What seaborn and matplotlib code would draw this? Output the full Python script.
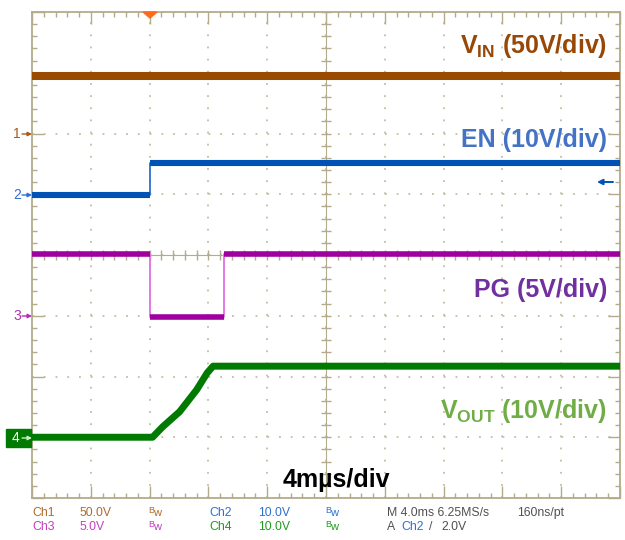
import numpy as np
import pandas as pd
import matplotlib
matplotlib.use("Agg")
import matplotlib.pyplot as plt
from matplotlib.patches import Rectangle, Polygon
import seaborn as sns

# ---------------- data ----------------
# time in ms relative to trigger (4 ms/div, trigger 2 div from left edge)
time_min, time_max = -8.0, 32.0
# channel settings: screen offset (div) of ground marker, volts/div
vin_offset, vin_scale = 6.0, 50.0
en_offset, en_scale = 5.0, 10.0
pg_offset, pg_scale = 3.0, 5.0
vout_offset, vout_scale = 1.0, 10.0

vin_t = [-8.0, 32.0]
vin_v = [47.5, 47.5]

en_t = [-8.0, 0.0, 0.0, 32.0]
en_v = [-0.1, -0.1, 5.1, 5.1]

pg_t = [-8.0, 0.0, 0.0, 5.05, 5.05, 32.0]
pg_v = [5.1, 5.1, -0.1, -0.1, 5.1, 5.1]

vout_t = [-8.0, 0.2, 0.88, 2.04, 3.2, 3.92, 4.32, 32.0]
vout_v = [0.0, 0.0, 1.7, 4.2, 7.8, 10.6, 11.7, 11.7]

labels = ["V$_{\\mathbf{IN}}$ (50V/div)", "EN (10V/div)", "PG (5V/div)",
          "V$_{\\mathbf{OUT}}$ (10V/div)"]
timebase_label = "4mµs/div"

# ---------------- style ----------------
sns.set_style("white")
plt.rcParams["font.family"] = ["Liberation Sans", "DejaVu Sans"]
plt.rcParams["mathtext.fontset"] = "custom"
plt.rcParams["mathtext.rm"] = "Liberation Sans:bold"
plt.rcParams["mathtext.it"] = "Liberation Sans:bold"
plt.rcParams["mathtext.bf"] = "Liberation Sans:bold"
plt.rcParams["lines.scale_dashes"] = False

TAN = "#b3ab8b"
DOT = "#c4bda3"

W, H = 625, 540
fig = plt.figure(figsize=(W / 100, H / 100), dpi=100)
fig.patch.set_facecolor("white")
L, T, R, B = 32, 12, 620, 498
ax = fig.add_axes([L / W, 1 - B / H, (R - L) / W, (B - T) / H])
ax.set_facecolor("white")
ax.set_xlim(time_min, time_max)
ax.set_ylim(0, 8)

xmaj = np.arange(time_min, time_max + 0.01, 4.0)
xmin = np.arange(time_min, time_max + 0.01, 0.8)
ymaj = np.arange(0, 8.01, 1.0)
ymin = np.arange(0, 8.01, 0.2)
ax.set_xticks(xmaj)
ax.set_xticks(xmin, minor=True)
ax.set_yticks(ymaj)
ax.set_yticks(ymin, minor=True)
ax.tick_params(which="major", direction="in", length=8.6, width=1.0, color=TAN,
               top=True, right=True, bottom=True, left=True,
               labelleft=False, labelbottom=False)
ax.tick_params(which="minor", direction="in", length=3.6, width=1.0, color=TAN,
               top=True, right=True, bottom=True, left=True)
for s in ax.spines.values():
    s.set_color(TAN)
    s.set_linewidth(1.3)

ax.xaxis.grid(True, which="major", color=DOT, lw=1.3, linestyle=(0, (1.3, 7.45)))
ax.yaxis.grid(True, which="major", color=DOT, lw=1.3, linestyle=(0, (1.3, 7.17)))

# centre cross-hair lines with small ticks
xc = (time_min + time_max) / 2
ax.axvline(xc, color=TAN, lw=0.8, zorder=1)
ax.axhline(4.0, color=TAN, lw=0.8, zorder=1)
ax.plot(np.full_like(ymin, xc), ymin, ls="none", marker="_", ms=7, mew=1.0, color=TAN, zorder=1)
ax.plot(xmin, np.full_like(xmin, 4.0), ls="none", marker="|", ms=7, mew=1.0, color=TAN, zorder=1)


def trace(t, v, offset, scale, color, lw_level, edge_color, lw_edge=1.3):
    df = pd.DataFrame({"t": t, "div": [offset + x / scale for x in v]})
    seg = [0]
    for i in range(1, len(df)):
        seg.append(seg[-1] + (1 if df.t[i] == df.t[i - 1] else 0))
    df["seg"] = seg
    sns.lineplot(data=df, x="t", y="div", sort=False, estimator=None, color=edge_color,
                 lw=lw_edge, ax=ax, legend=False, zorder=3)
    sns.lineplot(data=df, x="t", y="div", units="seg", sort=False, estimator=None,
                 color=color, lw=lw_level, ax=ax, legend=False, zorder=4,
                 solid_capstyle="butt", solid_joinstyle="round")


trace(vin_t, vin_v, vin_offset, vin_scale, "#994c00", 5.8, "#994c00")
trace(en_t, en_v, en_offset, en_scale, "#0052b4", 4.4, "#2f6fd0")
trace(pg_t, pg_v, pg_offset, pg_scale, "#a000a0", 4.0, "#e070e0")
trace(vout_t, vout_v, vout_offset, vout_scale, "#007a00", 5.0, "#007a00")
ax.set_xlabel("")
ax.set_ylabel("")

# ---------------- overlay in pixel space for annotations ----------------
ov = fig.add_axes([0, 0, 1, 1], zorder=10)
ov.set_xlim(0, W)
ov.set_ylim(H, 0)
ov.axis("off")
ov.patch.set_alpha(0)

big = dict(fontsize=18, fontweight="bold", ha="right", va="baseline")
ov.text(607, 53, labels[0], color="#974806", **big)
ov.text(607, 147, labels[1], color="#4472c4", **big)
ov.text(607, 297, labels[2], color="#7030a0", **big)
ov.text(607, 418, labels[3], color="#70ad47", **big)
ov.text(283, 487, timebase_label, color="black", fontsize=18, fontweight="bold",
        ha="left", va="baseline")

# trigger position marker
ov.add_patch(Polygon([[143, 12], [157, 12], [150, 18]], closed=True, color="#ff6a1a"))

arrow_kw = dict(shrinkA=0, shrinkB=0)


# channel ground markers
def marker(num, y, color):
    ov.text(17, y, num, color=color, fontsize=10, ha="center", va="center")
    ov.annotate("", xy=(32, y), xytext=(22, y),
                arrowprops=dict(arrowstyle="-|>", color=color, lw=1.0,
                                mutation_scale=6, **arrow_kw))


marker("1", 134, "#a85a1a")
marker("2", 195, "#2f6fd0")
marker("3", 316, "#b030b0")
ov.add_patch(Rectangle((6, 429), 25, 18, color="#007a00"))
ov.text(16, 438.5, "4", color="white", fontsize=10, ha="center", va="center")
ov.annotate("", xy=(32, 438), xytext=(22, 438),
            arrowprops=dict(arrowstyle="-|>", color="#c8f0c8", lw=1.0,
                            mutation_scale=6, **arrow_kw))
# trigger level arrow
ov.annotate("", xy=(597, 182), xytext=(613, 182),
            arrowprops=dict(arrowstyle="-|>", color="#0052b4", lw=1.4,
                            mutation_scale=8, **arrow_kw))

# status line
sm = dict(fontsize=8.8, va="baseline", ha="left")
c1, c2, c3, c4, cg = "#b06a2a", "#2f6fd0", "#c040c0", "#209a20", "#505050"
row1, row2 = 516, 530
ov.text(32, row1, "Ch1", color=c1, **sm)
ov.text(79, row1, "50.0V", color=c1, **sm)
ov.text(209, row1, "Ch2", color=c2, **sm)
ov.text(258, row1, "10.0V", color=c2, **sm)
ov.text(387, row1, "M 4.0ms 6.25MS/s", color=cg, **sm)
ov.text(517, row1, "160ns/pt", color=cg, **sm)
ov.text(32, row2, "Ch3", color=c3, **sm)
ov.text(79, row2, "5.0V", color=c3, **sm)
ov.text(209, row2, "Ch4", color=c4, **sm)
ov.text(258, row2, "10.0V", color=c4, **sm)
ov.text(387, row2, "A", color=cg, **sm)
ov.text(401, row2, "Ch2", color=c2, **sm)
ov.text(429, row2, "/", color=cg, **sm)
ov.text(441, row2, "2.0V", color=cg, **sm)
for xb, yb, col in [(148, row1, c1), (325, row1, c2), (148, row2, c3), (325, row2, c4)]:
    ov.text(xb, yb - 3, "B", color=col, fontsize=6.5, va="baseline")
    ov.text(xb + 5, yb, "w", color=col, fontsize=8, va="baseline")

fig.savefig("out.png", dpi=100, facecolor="white")
